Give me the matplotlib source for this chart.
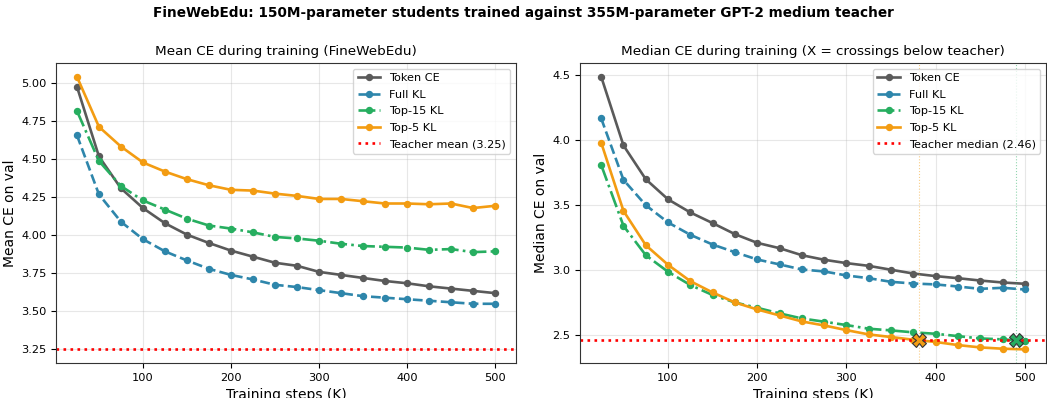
import numpy as np
import matplotlib
matplotlib.use("Agg")
import matplotlib.pyplot as plt

steps = [25, 50, 75, 100, 125, 150, 175, 200, 225, 250, 275, 300, 325, 350, 375, 400, 425, 450, 475, 500]

mean_token_ce = [4.98, 4.52, 4.31, 4.18, 4.08, 4.005, 3.95, 3.90, 3.86, 3.82, 3.80, 3.76, 3.74, 3.72, 3.70, 3.685, 3.665, 3.65, 3.635, 3.62]
mean_full_kl = [4.66, 4.27, 4.09, 3.975, 3.895, 3.835, 3.78, 3.74, 3.71, 3.675, 3.66, 3.64, 3.62, 3.60, 3.59, 3.58, 3.57, 3.56, 3.55, 3.55]
mean_top15 = [4.82, 4.49, 4.325, 4.23, 4.17, 4.11, 4.065, 4.045, 4.02, 3.99, 3.98, 3.965, 3.945, 3.93, 3.925, 3.92, 3.905, 3.91, 3.89, 3.895]
mean_top5 = [5.045, 4.715, 4.585, 4.48, 4.42, 4.37, 4.33, 4.30, 4.295, 4.275, 4.26, 4.24, 4.24, 4.225, 4.21, 4.21, 4.205, 4.21, 4.18, 4.195]

med_token_ce = [4.49, 3.96, 3.70, 3.545, 3.444, 3.362, 3.277, 3.21, 3.169, 3.115, 3.08, 3.054, 3.033, 3.003, 2.974, 2.954, 2.938, 2.92, 2.905, 2.895]
med_full_kl = [4.169, 3.695, 3.50, 3.367, 3.272, 3.197, 3.138, 3.082, 3.044, 3.005, 2.99, 2.959, 2.938, 2.91, 2.897, 2.89, 2.874, 2.856, 2.864, 2.851]
med_top15 = [3.81, 3.341, 3.115, 2.987, 2.885, 2.808, 2.751, 2.71, 2.667, 2.628, 2.603, 2.577, 2.549, 2.536, 2.521, 2.51, 2.492, 2.474, 2.467, 2.455]
med_top5 = [3.982, 3.456, 3.192, 3.041, 2.915, 2.828, 2.751, 2.697, 2.651, 2.605, 2.574, 2.538, 2.505, 2.485, 2.464, 2.447, 2.423, 2.405, 2.395, 2.39]

teacher_mean = 3.25
teacher_median = 2.46

labels = ["Token CE", "Full KL", "Top-15 KL", "Top-5 KL"]
colors = ["#5a5a5a", "#2e86ab", "#27ae60", "#f39c12"]
styles = ["-", "--", "-.", "-"]

fig = plt.figure(figsize=(10.47, 3.98), dpi=100)
ax1 = fig.add_axes([56/1047, 35/398, 460/1047, 300/398])
ax2 = fig.add_axes([580/1047, 35/398, 466/1047, 300/398])

FS_T = 9.7
FS_LAB = 10
FS_TICK = 8.2
FS_LEG = 8.1

def draw(ax, series, teacher, tlabel, title, ylabel):
    for vals, lab, c, ls in zip(series, labels, colors, styles):
        ax.plot(steps, vals, linestyle=ls, color=c, marker="o", markersize=4.3,
                linewidth=1.9, label=lab)
    ax.axhline(teacher, color="red", linestyle=":", linewidth=1.9, label=tlabel)
    ax.set_title(title, fontsize=FS_T)
    ax.set_xlabel("Training steps (K)", fontsize=FS_LAB)
    ax.set_ylabel(ylabel, fontsize=FS_LAB, labelpad=3)
    ax.grid(True, alpha=0.3)
    ax.tick_params(labelsize=FS_TICK)
    for s in ax.spines.values():
        s.set_color("#333333")
    ax.set_xticks([100, 200, 300, 400, 500])

draw(ax1, [mean_token_ce, mean_full_kl, mean_top15, mean_top5], teacher_mean,
     f"Teacher mean ({teacher_mean:.2f})", "Mean CE during training (FineWebEdu)", "Mean CE on val")
draw(ax2, [med_token_ce, med_full_kl, med_top15, med_top5], teacher_median,
     f"Teacher median ({teacher_median:.2f})",
     "Median CE during training (X = crossings below teacher)", "Median CE on val")

# crossings below teacher median
for vals, c in [(med_top5, colors[3]), (med_top15, colors[2])]:
    for i in range(1, len(vals)):
        if vals[i - 1] > teacher_median >= vals[i]:
            x0, x1 = steps[i - 1], steps[i]
            y0, y1 = vals[i - 1], vals[i]
            xc = x0 + (y0 - teacher_median) / (y0 - y1) * (x1 - x0)
            ax2.axvline(xc, color=c, linestyle=":", linewidth=0.8, alpha=0.5)
            ax2.plot([xc], [teacher_median], marker="X", markersize=10, color=c,
                     markeredgecolor="#333333", markeredgewidth=0.8, zorder=5)
            break

ax1.legend(loc="upper right", fontsize=FS_LEG, labelspacing=0.58)
ax2.legend(loc="upper right", fontsize=FS_LEG, labelspacing=0.58)

fig.suptitle("FineWebEdu: 150M-parameter students trained against 355M-parameter GPT-2 medium teacher",
             fontsize=9.8, fontweight="bold", y=0.985)

fig.savefig("out.png", dpi=100)
